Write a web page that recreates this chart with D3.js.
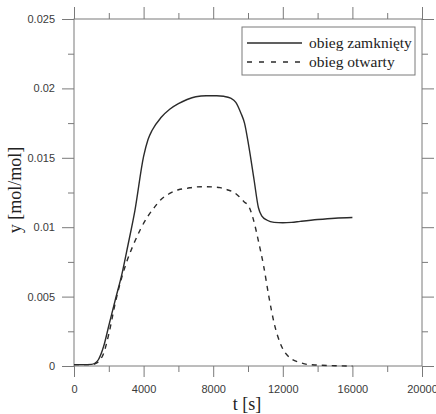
<!DOCTYPE html>
<html>
<head>
<meta charset="utf-8">
<script src="https://cdn.jsdelivr.net/npm/d3@7/dist/d3.min.js"></script>
<style>
  html, body { margin: 0; padding: 0; background: #fff; }
  svg { display: block; }
</style>
</head>
<body>
<svg id="chart" width="436" height="414"></svg>
<script>
// ---- data ----
const tClosed = [0,500,1000,1200,1400,1700,2000,2400,2750,3100,3500,4000,4250,4500,5000,5500,6000,6500,7000,7600,8200,8600,9000,9300,9600,9800,10050,10350,10600,10800,11100,11500,12000,12500,13000,14000,15000,16000];
const yClosed = [0.0001,0.0001,0.00012,0.0002,0.00045,0.0014,0.0029,0.0049,0.0066,0.0087,0.0112,0.0151,0.0163,0.0170,0.0179,0.0185,0.0189,0.0192,0.0194,0.01947,0.01947,0.01943,0.0193,0.0190,0.0182,0.0175,0.0158,0.0134,0.0114,0.0108,0.0105,0.01035,0.01032,0.01035,0.01042,0.01055,0.01065,0.0107];
const tOpen = [0,500,1000,1200,1400,1700,2000,2400,2750,3000,3400,3800,4200,4600,5000,5500,6000,6500,7000,7500,8000,8400,8800,9200,9500,9800,10000,10300,10600,10900,11200,11500,11900,12400,13000,13500,14000,15000,16000];
const yOpen = [0.0001,0.0001,0.0001,0.00015,0.0003,0.0009,0.0023,0.0047,0.0064,0.0074,0.0087,0.0098,0.0107,0.0114,0.0120,0.01243,0.0127,0.0128,0.0129,0.01292,0.0129,0.01285,0.0127,0.0125,0.0122,0.0118,0.0116,0.0106,0.0090,0.0072,0.0050,0.0031,0.0015,0.0006,0.00025,0.0001,0.00007,0.00002,0];
const seriesNames = ["obieg zamknięty", "obieg otwarty"];
const xMajor = [0,4000,8000,12000,16000,20000];
const xMajorLabels = ["0","4000","8000","12000","16000","20000"];
const xMinor = [2000,6000,10000,14000,18000];
const yMajor = [0,0.005,0.01,0.015,0.02,0.025];
const yMajorLabels = ["0","0.005","0.01","0.015","0.02","0.025"];
const yMinor = [0.0025,0.0075,0.0125,0.0175,0.0225];
const xTitle = "t [s]";
const yTitle = "y [mol/mol]";

// ---- layout ----
const L = 74, R = 422, T = 19, B = 366;
const axisColor = "#7a7a7a";
const lineColor = "#2b2b2b";
const serif = "'Liberation Serif', 'Times New Roman', serif";
const sans = "'Liberation Sans', Arial, sans-serif";
const svg = d3.select("#chart");
const x = d3.scaleLinear().domain([0, 20000]).range([L, R]);
const y = d3.scaleLinear().domain([0, 0.025]).range([B, T]);

function styleAxis(g) {
  g.select(".domain").remove();
  g.selectAll(".tick line").attr("stroke", axisColor).attr("stroke-width", 1);
  g.selectAll(".tick text").attr("fill", "#3a3a3a").attr("font-family", sans).attr("font-size", 11);
}

// bottom
svg.append("g").attr("transform", `translate(0,${B})`)
  .call(d3.axisBottom(x).tickValues(xMajor).tickSize(11).tickPadding(8).tickFormat((d,i) => xMajorLabels[i]))
  .call(styleAxis);
svg.append("g").attr("transform", `translate(0,${B})`)
  .call(d3.axisBottom(x).tickValues(xMinor).tickSize(6).tickFormat(""))
  .call(styleAxis);
// top
svg.append("g").attr("transform", `translate(0,${T})`)
  .call(d3.axisTop(x).tickValues(xMajor).tickSize(12).tickFormat(""))
  .call(styleAxis);
svg.append("g").attr("transform", `translate(0,${T})`)
  .call(d3.axisTop(x).tickValues(xMinor).tickSize(6).tickFormat(""))
  .call(styleAxis);
// left
svg.append("g").attr("transform", `translate(${L},0)`)
  .call(d3.axisLeft(y).tickValues(yMajor).tickSize(12).tickPadding(7).tickFormat((d,i) => yMajorLabels[i]))
  .call(styleAxis);
svg.append("g").attr("transform", `translate(${L},0)`)
  .call(d3.axisLeft(y).tickValues(yMinor).tickSize(6).tickFormat(""))
  .call(styleAxis);
// right
svg.append("g").attr("transform", `translate(${R},0)`)
  .call(d3.axisRight(y).tickValues(yMajor).tickSize(12).tickFormat(""))
  .call(styleAxis);
svg.append("g").attr("transform", `translate(${R},0)`)
  .call(d3.axisRight(y).tickValues(yMinor).tickSize(6).tickFormat(""))
  .call(styleAxis);

// frame
svg.append("rect").attr("x", L).attr("y", T).attr("width", R - L).attr("height", B - T)
  .attr("fill", "none").attr("stroke", axisColor).attr("stroke-width", 1);

// lines
const line = d3.line().x(d => x(d[0])).y(d => y(d[1])).curve(d3.curveMonotoneX);
svg.append("path").datum(d3.zip(tClosed, yClosed)).attr("d", line)
  .attr("fill", "none").attr("stroke", lineColor).attr("stroke-width", 1.4);
svg.append("path").datum(d3.zip(tOpen, yOpen)).attr("d", line)
  .attr("fill", "none").attr("stroke", lineColor).attr("stroke-width", 1.4).attr("stroke-dasharray", "5,5");

// titles
svg.append("text").attr("x", 247).attr("y", 410).attr("text-anchor", "middle")
  .attr("font-family", serif).attr("font-size", 18).attr("fill", "#222").text(xTitle);
svg.append("text").attr("transform", "translate(21,190) rotate(-90)").attr("text-anchor", "middle")
  .attr("font-family", serif).attr("font-size", 18).attr("fill", "#222").text(yTitle);

// legend
const lg = svg.append("g");
lg.append("rect").attr("x", 242).attr("y", 27).attr("width", 173).attr("height", 48)
  .attr("fill", "#fff").attr("stroke", axisColor).attr("stroke-width", 1);
const ly = [43, 62];
lg.append("line").attr("x1", 247).attr("x2", 302).attr("y1", ly[0]).attr("y2", ly[0])
  .attr("stroke", lineColor).attr("stroke-width", 1.4);
lg.append("line").attr("x1", 247).attr("x2", 302).attr("y1", ly[1]).attr("y2", ly[1])
  .attr("stroke", lineColor).attr("stroke-width", 1.4).attr("stroke-dasharray", "5,7");
seriesNames.forEach((n, i) => {
  lg.append("text").attr("x", 309).attr("y", ly[i] + 5)
    .attr("font-family", serif).attr("font-size", 15.5).attr("fill", "#222").text(n);
});
</script>
</body>
</html>
